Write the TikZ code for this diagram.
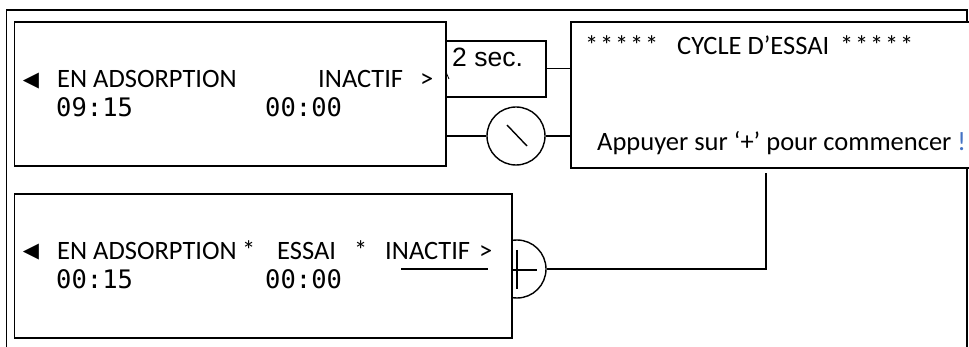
\documentclass[tikz,border=0pt]{standalone}
\usepackage{fontspec}
\setmainfont{Carlito}
\newfontfamily\monof{DejaVu Sans Mono}
\newfontfamily\arialf{Liberation Sans}
\newfontfamily\symf{DejaVu Sans}
\definecolor{exclblue}{RGB}{68,114,196}
\newcommand\fivestars{*\kern1.8pt*\kern1.8pt*\kern1.8pt*\kern1.8pt*}
\begin{document}
\begin{tikzpicture}[x=1pt,y=-1pt,
  lw/.style={line width=1.6pt},
  panel/.style={draw, lw, fill=white, inner sep=0pt, anchor=north west},
  txt/.style={inner sep=0pt, anchor=base west, font=\fontsize{26.5}{30}\selectfont},
  mono/.style={inner sep=0pt, anchor=base west, font=\monof\fontsize{25.5}{30}\selectfont},
  tri/.style={inner sep=0pt, anchor=center, font=\symf\fontsize{21}{24}\selectfont},
  wire/.style={draw, line width=1.4pt},
  sym/.style={draw, line width=1.4pt, circle, minimum size=58pt, inner sep=0pt, fill=white}]
\useasboundingbox (0,0) rectangle (969,347);
% outer frame
\draw[lw] (6.5,360) -- (6.5,10) -- (967,10) -- (967,360);
% test cycle screen (clipped on the right)
\node[panel, minimum width=420pt, minimum height=146pt] (cycle) at (570,21) {};
% top screen
\node[panel, minimum width=431.5pt, minimum height=144pt] (scr1) at (13.5,21) {};
% 2 sec box
\node[panel, minimum width=100pt, minimum height=56pt] (sec) at (445,40) {};
\node[inner sep=0pt, anchor=base west, font=\arialf\fontsize{26.5}{30}\selectfont] (sectxt) at (452,67) {2 sec.};
\draw[line width=0.8pt] (445.5,71) -- (449,79);
% minus key
\node[sym] (minus) at (516,136) {};
\draw[line width=1.4pt] (507,125) -- (527,146);
\draw[wire] (scr1.east |- minus.west) -- (minus.west);
\draw[wire] (minus.east) -- (minus.east -| cycle.west);
\draw[wire] (sec.east) -- (sec.east -| cycle.west);
% plus key
\node[sym] (plus) at (517,269) {};
\draw[line width=1.4pt] (517,250) -- (517,289);
\draw[line width=1.4pt] (497,270) -- (537,270);
% bottom screen
\node[panel, minimum width=497.5pt, minimum height=144pt] (scr2) at (13.5,193) {};
\coordinate (up) at (766,173);
\draw[wire] (plus.east) -- (766,269) -- (up);
% texts top screen
\node[tri] (t1a) at (31,81) {◀};
\node[txt] (t1b) at (57,88) {EN ADSORPTION};
\node[txt] (t1c) at (318,88) {INACTIF};
\node[txt] (t1d) at (420,88) {>};
\node[mono] (t1e) at (56,117) {09:15};
\node[mono] (t1f) at (265,117) {00:00};
% texts bottom screen
\node[tri] (t2a) at (31,252) {◀};
\node[txt] (t2b) at (57,260) {EN ADSORPTION};
\node[txt] (t2c) at (242,260) {*};
\node[txt] (t2d) at (277,260) {ESSAI};
\node[txt] (t2e) at (354,260) {*};
\node[txt] (t2f) at (385,260) {INACTIF};
\node[txt] (t2g) at (479,260) {>};
\node[mono] (t2h) at (56,289) {00:15};
\node[mono] (t2i) at (265,289) {00:00};
\draw[line width=1.4pt] (401,269) -- (488,269);
% texts test cycle
\node[txt] (c1) at (585,55) {\fivestars};
\node[txt] (c2) at (677,55) {CYCLE D’ESSAI};
\node[txt] (c3) at (840,55) {\fivestars};
\node[txt] (c4) at (597,150.5) {Appuyer sur ‘+’ pour commencer \textcolor{exclblue}{!}};
\end{tikzpicture}
\end{document}
